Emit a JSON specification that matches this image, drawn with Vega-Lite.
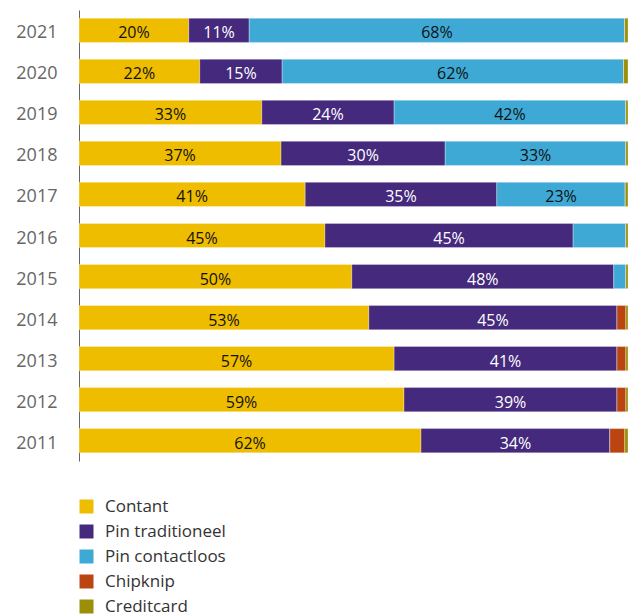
{
  "$schema": "https://vega.github.io/schema/vega-lite/v6.json",
  "width": 549,
  "height": 451,
  "autosize": "none",
  "padding": {"left": 79, "top": 10, "right": 1, "bottom": 153},
  "background": "white",
  "config": {"view": {"stroke": null}, "font": "Open Sans"},
  "data": {"values": [
    {"year": "2021", "cat": "Contant", "o": 1, "v": 20},
    {"year": "2021", "cat": "Pin traditioneel", "o": 2, "v": 11},
    {"year": "2021", "cat": "Pin contactloos", "o": 3, "v": 68.4},
    {"year": "2021", "cat": "Chipknip", "o": 4, "v": 0},
    {"year": "2021", "cat": "Creditcard", "o": 5, "v": 0.6},
    {"year": "2020", "cat": "Contant", "o": 1, "v": 22},
    {"year": "2020", "cat": "Pin traditioneel", "o": 2, "v": 15},
    {"year": "2020", "cat": "Pin contactloos", "o": 3, "v": 62.2},
    {"year": "2020", "cat": "Chipknip", "o": 4, "v": 0},
    {"year": "2020", "cat": "Creditcard", "o": 5, "v": 0.8},
    {"year": "2019", "cat": "Contant", "o": 1, "v": 33.3},
    {"year": "2019", "cat": "Pin traditioneel", "o": 2, "v": 24.1},
    {"year": "2019", "cat": "Pin contactloos", "o": 3, "v": 42.2},
    {"year": "2019", "cat": "Chipknip", "o": 4, "v": 0},
    {"year": "2019", "cat": "Creditcard", "o": 5, "v": 0.4},
    {"year": "2018", "cat": "Contant", "o": 1, "v": 36.8},
    {"year": "2018", "cat": "Pin traditioneel", "o": 2, "v": 29.9},
    {"year": "2018", "cat": "Pin contactloos", "o": 3, "v": 32.9},
    {"year": "2018", "cat": "Chipknip", "o": 4, "v": 0},
    {"year": "2018", "cat": "Creditcard", "o": 5, "v": 0.4},
    {"year": "2017", "cat": "Contant", "o": 1, "v": 41.2},
    {"year": "2017", "cat": "Pin traditioneel", "o": 2, "v": 34.9},
    {"year": "2017", "cat": "Pin contactloos", "o": 3, "v": 23.4},
    {"year": "2017", "cat": "Chipknip", "o": 4, "v": 0},
    {"year": "2017", "cat": "Creditcard", "o": 5, "v": 0.5},
    {"year": "2016", "cat": "Contant", "o": 1, "v": 44.8},
    {"year": "2016", "cat": "Pin traditioneel", "o": 2, "v": 45.2},
    {"year": "2016", "cat": "Pin contactloos", "o": 3, "v": 9.6},
    {"year": "2016", "cat": "Chipknip", "o": 4, "v": 0},
    {"year": "2016", "cat": "Creditcard", "o": 5, "v": 0.4},
    {"year": "2015", "cat": "Contant", "o": 1, "v": 49.7},
    {"year": "2015", "cat": "Pin traditioneel", "o": 2, "v": 47.7},
    {"year": "2015", "cat": "Pin contactloos", "o": 3, "v": 2.2},
    {"year": "2015", "cat": "Chipknip", "o": 4, "v": 0},
    {"year": "2015", "cat": "Creditcard", "o": 5, "v": 0.4},
    {"year": "2014", "cat": "Contant", "o": 1, "v": 52.8},
    {"year": "2014", "cat": "Pin traditioneel", "o": 2, "v": 45.2},
    {"year": "2014", "cat": "Pin contactloos", "o": 3, "v": 0},
    {"year": "2014", "cat": "Chipknip", "o": 4, "v": 1.6},
    {"year": "2014", "cat": "Creditcard", "o": 5, "v": 0.4},
    {"year": "2013", "cat": "Contant", "o": 1, "v": 57.4},
    {"year": "2013", "cat": "Pin traditioneel", "o": 2, "v": 40.6},
    {"year": "2013", "cat": "Pin contactloos", "o": 3, "v": 0},
    {"year": "2013", "cat": "Chipknip", "o": 4, "v": 1.6},
    {"year": "2013", "cat": "Creditcard", "o": 5, "v": 0.4},
    {"year": "2012", "cat": "Contant", "o": 1, "v": 59.2},
    {"year": "2012", "cat": "Pin traditioneel", "o": 2, "v": 38.8},
    {"year": "2012", "cat": "Pin contactloos", "o": 3, "v": 0},
    {"year": "2012", "cat": "Chipknip", "o": 4, "v": 1.6},
    {"year": "2012", "cat": "Creditcard", "o": 5, "v": 0.4},
    {"year": "2011", "cat": "Contant", "o": 1, "v": 62.3},
    {"year": "2011", "cat": "Pin traditioneel", "o": 2, "v": 34.4},
    {"year": "2011", "cat": "Pin contactloos", "o": 3, "v": 0},
    {"year": "2011", "cat": "Chipknip", "o": 4, "v": 2.7},
    {"year": "2011", "cat": "Creditcard", "o": 5, "v": 0.6}
  ]},
  "transform": [
    {"stack": "v", "groupby": ["year"], "sort": [{"field": "o", "order": "ascending"}], "as": ["v0", "v1"]},
    {"calculate": "(datum.v0 + datum.v1) / 2", "as": "mid"},
    {"calculate": "format(datum.v, '.0f') + '%'", "as": "label"}
  ],
  "encoding": {
    "y": {
      "field": "year", "type": "nominal",
      "sort": "descending",
      "scale": {"paddingInner": 0.41, "paddingOuter": 0.2},
      "axis": {
        "title": null, "ticks": false, "labelPadding": 22, "labelOffset": 3,
        "labelFontSize": 18, "labelColor": "#666666", "labelFont": "Open Sans",
        "domainColor": "#666666", "domainWidth": 1
      }
    }
  },
  "layer": [
    {
      "mark": {"type": "bar", "stroke": "white", "strokeWidth": 0.6, "strokeOpacity": 0.5},
      "encoding": {
        "x": {"field": "v0", "type": "quantitative", "scale": {"domain": [0, 100], "nice": false}, "axis": null},
        "x2": {"field": "v1"},
        "color": {
          "field": "cat", "type": "nominal",
          "scale": {
            "domain": ["Contant", "Pin traditioneel", "Pin contactloos", "Chipknip", "Creditcard"],
            "range": ["#efbd00", "#45297d", "#3ea9d5", "#bb4510", "#9c8f08"]
          },
          "legend": {
            "title": null, "orient": "none", "legendX": -1, "legendY": 488,
            "direction": "vertical", "symbolType": "square", "symbolSize": 196,
            "symbolStrokeWidth": 0, "labelFontSize": 17, "labelColor": "#333333",
            "labelFont": "Open Sans", "rowPadding": 7, "labelOffset": 10, "padding": 0
          }
        }
      }
    },
    {
      "transform": [
        {"filter": "datum.o <= 3 && datum.v >= 10"}
      ],
      "mark": {"type": "text", "fontSize": 16, "baseline": "middle", "align": "center", "dy": 3},
      "encoding": {
        "x": {"field": "mid", "type": "quantitative"},
        "text": {"field": "label", "type": "nominal"},
        "color": {
          "condition": {"test": "datum.cat === 'Pin traditioneel'", "value": "white"},
          "value": "#111111"
        }
      }
    }
  ]
}
